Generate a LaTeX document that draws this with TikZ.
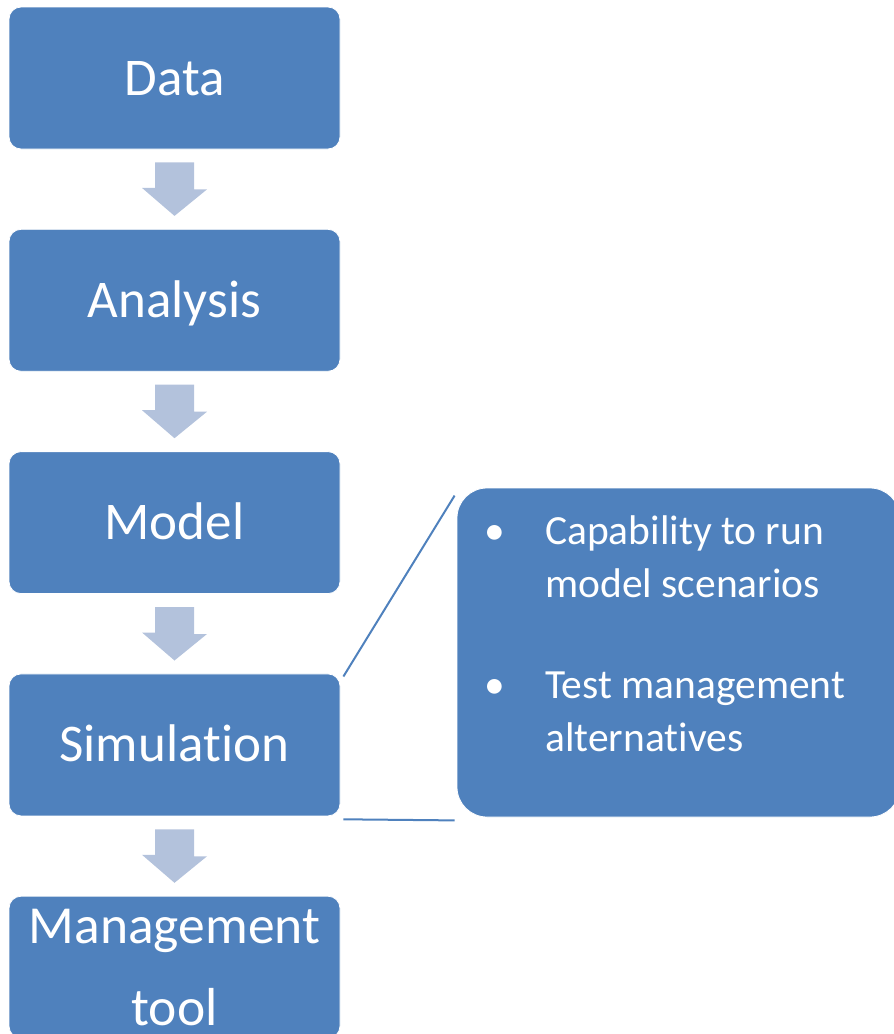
\documentclass[tikz,border=0pt]{standalone}
\usepackage{fontspec}
\setmainfont{Carlito}[Ligatures=NoCommon]
\usetikzlibrary{positioning}

\definecolor{boxblue}{HTML}{4F81BD}
\definecolor{flowblue}{HTML}{B3C2DC}

\begin{document}
\begin{tikzpicture}[x=1pt, y=-1pt,
  box/.style={draw=white, line width=0.8pt, fill=boxblue, rounded corners=12pt,
    minimum width=331pt, minimum height=142pt, inner sep=0pt, text=white,
    font=\fontsize{53}{63}\selectfont, text height=34pt, text depth=0pt},
  callbox/.style={draw=white, line width=0.8pt, fill=boxblue, rounded corners=30pt,
    minimum width=443pt, minimum height=329pt, inner sep=0pt},
  item/.style={text=white, inner sep=0pt, font=\fontsize{41.5}{53}\selectfont},
  flow/.style={fill=flowblue},
  link/.style={draw=boxblue, line width=2pt}]

% Page size, cut at the lower edge
\useasboundingbox (0,0) rectangle (894,1034);
\clip (0,0) rectangle (894,1034);

% Process boxes (the box keeps t and i apart)
\node[box] (data) at (174.5,78) {Data};
\node[box, below=79.5pt of data] (ana) {Analysis};
\node[box, below=79.5pt of ana] (model) {Model};
\node[box, below=79.5pt of model] (sim) {Simula\mbox{t}ion};
\node[box, below=79.5pt of sim, align=center, text height=, text depth=,
  font=\fontsize{53.5}{82}\selectfont] (mgmt) {Management\\tool};

% Block arrows between boxes
\fill[flow] ([shift={(-19.5,13)}]data.south) -- ++(39,0) -- ++(0,27) -- ++(13,0)
  -- ([shift={(0,-13)}]ana.north) -- ++(-32.5,-28) -- ++(13,0) -- cycle;
\fill[flow] ([shift={(-19.5,13)}]ana.south) -- ++(39,0) -- ++(0,27) -- ++(13,0)
  -- ([shift={(0,-13)}]model.north) -- ++(-32.5,-28) -- ++(13,0) -- cycle;
\fill[flow] ([shift={(-19.5,13)}]model.south) -- ++(39,0) -- ++(0,27) -- ++(13,0)
  -- ([shift={(0,-13)}]sim.north) -- ++(-32.5,-28) -- ++(13,0) -- cycle;
\fill[flow] ([shift={(-19.5,13)}]sim.south) -- ++(39,0) -- ++(0,27) -- ++(13,0)
  -- ([shift={(0,-13)}]mgmt.north) -- ++(-32.5,-28) -- ++(13,0) -- cycle;

% Detail box for the simulation step
\node[callbox] (call) at (678.5,652.5) {};
\node[item, anchor=base west] (list) at (484,544) {%
  \begin{tabular}[t]{@{}p{61pt}@{}l@{}}
  \textbullet & Capability to run\\
              & model scenarios\\[48pt]
  \textbullet & Test management\\
              & alterna\mbox{t}ives
  \end{tabular}};

% Lines joining simulation and detail box
\draw[link] ([shift={(3,3)}]sim.north east) -- ([shift={(-2,8)}]call.north west);
\draw[link] ([shift={(3,3)}]sim.south east) -- ([shift={(-2,3)}]call.south west);

\end{tikzpicture}
\end{document}
